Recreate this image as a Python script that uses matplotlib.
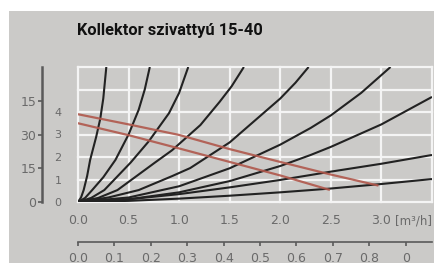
import matplotlib
matplotlib.use("Agg")
import matplotlib.pyplot as plt
from matplotlib.patches import Rectangle

# ---- data ----
title = "Kollektor szivattyú 15-40"
x_ticks = [0.0, 0.5, 1.0, 1.5, 2.0, 2.5, 3.0]
x_tick_labels = ["0.0", "0.5", "1.0", "1.5", "2.0", "2.5", "3.0"]
x_unit = "[m³/h]"
y_inner_ticks = [0, 1, 2, 3, 4]
y_inner_labels = ["0", "1", "2", "3", "4"]
y_outer_ticks = [0, 1.5, 3.0, 4.5]
y_outer_labels = ["0", "15", "30", "15"]
ls_ticks = [0.0, 0.1, 0.2, 0.3, 0.4, 0.5, 0.6, 0.7, 0.8, 0.9]
ls_labels = ["0.0", "0.1", "0.2", "0.3", "0.4", "0.5", "0.6", "0.7", "0.8", "0"]

# system curves (black): x, y points
sys1_x = [0, 0.03, 0.056, 0.09, 0.12, 0.18, 0.22, 0.25, 0.28]
sys1_y = [0, 0.20, 0.53, 1.15, 1.87, 2.90, 3.70, 4.60, 6.00]
sys2_x = [0, 0.07, 0.14, 0.25, 0.37, 0.50, 0.60, 0.66, 0.71]
sys2_y = [0, 0.18, 0.53, 1.10, 1.87, 3.00, 4.10, 5.00, 6.00]
sys3_x = [0, 0.13, 0.26, 0.52, 0.70, 0.90, 1.00, 1.09]
sys3_y = [0, 0.18, 0.53, 1.75, 2.70, 3.95, 4.85, 6.00]
sys4_x = [0, 0.20, 0.39, 0.76, 0.93, 1.21, 1.40, 1.52, 1.64]
sys4_y = [0, 0.18, 0.53, 1.75, 2.30, 3.42, 4.45, 5.15, 6.00]
sys5_x = [0, 0.30, 0.60, 0.93, 1.11, 1.50, 2.00, 2.15, 2.28]
sys5_y = [0, 0.20, 0.53, 1.15, 1.51, 2.65, 4.60, 5.30, 6.00]
sys6_x = [0, 0.5, 1.0, 1.5, 2.0, 2.3, 2.5, 2.8, 3.09]
sys6_y = [0, 0.20, 0.70, 1.50, 2.55, 3.29, 3.85, 4.85, 6.00]
sys7_x = [0, 0.5, 1.0, 1.5, 2.0, 2.3, 2.5, 3.0, 3.5]
sys7_y = [0, 0.12, 0.43, 0.93, 1.60, 2.09, 2.45, 3.45, 4.67]
sys8_x = [0, 0.5, 1.0, 1.5, 2.0, 2.3, 2.5, 3.0, 3.5]
sys8_y = [0, 0.12, 0.35, 0.65, 0.98, 1.20, 1.35, 1.70, 2.09]
sys9_x = [0, 0.5, 1.0, 1.5, 2.0, 2.3, 2.5, 3.0, 3.5]
sys9_y = [0, 0.05, 0.15, 0.28, 0.43, 0.53, 0.60, 0.80, 1.02]

# pump curves (red)
pump_hi_x = [0, 0.5, 1.0, 1.5, 2.0, 2.5, 2.96]
pump_hi_y = [3.90, 3.45, 2.98, 2.35, 1.78, 1.22, 0.74]
pump_lo_x = [0, 0.5, 1.0, 1.5, 2.0, 2.48]
pump_lo_y = [3.50, 2.97, 2.38, 1.78, 1.18, 0.55]

system_curves = [(sys1_x, sys1_y), (sys2_x, sys2_y), (sys3_x, sys3_y),
                 (sys4_x, sys4_y), (sys5_x, sys5_y), (sys6_x, sys6_y),
                 (sys7_x, sys7_y), (sys8_x, sys8_y), (sys9_x, sys9_y)]
pump_curves = [(pump_hi_x, pump_hi_y), (pump_lo_x, pump_lo_y)]

# ---- style ----
W, H = 443, 273
BG = "#cbcac8"
GRID = "#f4f4f4"
LABEL = "#6a6a6a"
AXISC = "#5a5a5a"
plt.rcParams['font.family'] = ['DejaVu Sans']

fig = plt.figure(figsize=(W / 100, H / 100), dpi=100, facecolor="white")
fig.patches.append(Rectangle((9 / W, 1 - 263 / H), 425 / W, 252 / H,
                             transform=fig.transFigure, facecolor=BG,
                             edgecolor="none", zorder=-10))

ax = fig.add_axes([78 / W, 1 - 202 / H, 354 / W, 135 / H])
ax.set_zorder(5)
ax.set_facecolor(BG)
ax.set_xlim(0, 3.5)
ax.set_ylim(0, 6)
ax.set_xticks(x_ticks)
ax.set_xticklabels(x_tick_labels)
ax.set_yticks(y_inner_ticks)
ax.set_yticklabels(y_inner_labels)
for gx in [0.5 * i for i in range(8)]:
    ax.plot([gx, gx], [0, 6], color=GRID, linewidth=1.6, zorder=1, clip_on=False)
for gy in range(7):
    ax.plot([0, 3.5], [gy, gy], color=GRID, linewidth=1.6, zorder=1, clip_on=False)
ax.tick_params(axis="both", which="both", length=0)
ax.tick_params(axis="x", pad=9, labelsize=9, labelcolor=LABEL)
ax.tick_params(axis="y", pad=12, labelsize=8, labelcolor=LABEL)
for s in ax.spines.values():
    s.set_visible(False)

for xs, ys in system_curves:
    ax.plot(xs, ys, color="#222222", linewidth=1.5, zorder=3,
            solid_capstyle="butt", solid_joinstyle="round", clip_on=True)
for xs, ys in pump_curves:
    ax.plot(xs, ys, color="#b0584c", linewidth=1.6, zorder=4, alpha=0.9)

ax.text(1.0, -0.14, x_unit, transform=ax.transAxes, ha="right", va="center",
        fontsize=8.5, color=LABEL)

# outer left axis (separate thin axes sharing the y range)
oy = fig.add_axes([42 / W, 1 - 202 / H, 0.5 / W, 135 / H])
oy.set_ylim(0, 6)
oy.patch.set_visible(False)
oy.set_xticks([])
oy.set_yticks(y_outer_ticks)
oy.set_yticklabels(y_outer_labels)
oy.tick_params(axis="y", length=3, width=1.2, color=AXISC, direction="out",
               labelsize=9, labelcolor=LABEL, pad=1)
for name, sp in oy.spines.items():
    sp.set_visible(name == "left")
oy.spines["left"].set_color(AXISC)
oy.spines["left"].set_linewidth(1.8)

# lower l/s axis
sx = ax.secondary_xaxis(-40 / 135, functions=(lambda v: v / 3.6, lambda v: v * 3.6))
sx.set_xticks(ls_ticks)
sx.set_xticklabels(ls_labels)
sx.tick_params(axis="x", length=3, width=1.2, color=AXISC, direction="out",
               labelsize=9, labelcolor=LABEL, pad=4)
sx.tick_params(axis="x", which="minor", length=0)
for name, sp in sx.spines.items():
    sp.set_visible(name == "bottom")
sx.spines["bottom"].set_color(AXISC)
sx.spines["bottom"].set_linewidth(1.2)

fig.text(77 / W, 1 - 30 / H, title, ha="left", va="center", fontsize=11.8,
         fontweight="bold", color="#111111",
         family=["Roboto", "DejaVu Sans"])

fig.savefig("out.png", dpi=100, facecolor="white")
